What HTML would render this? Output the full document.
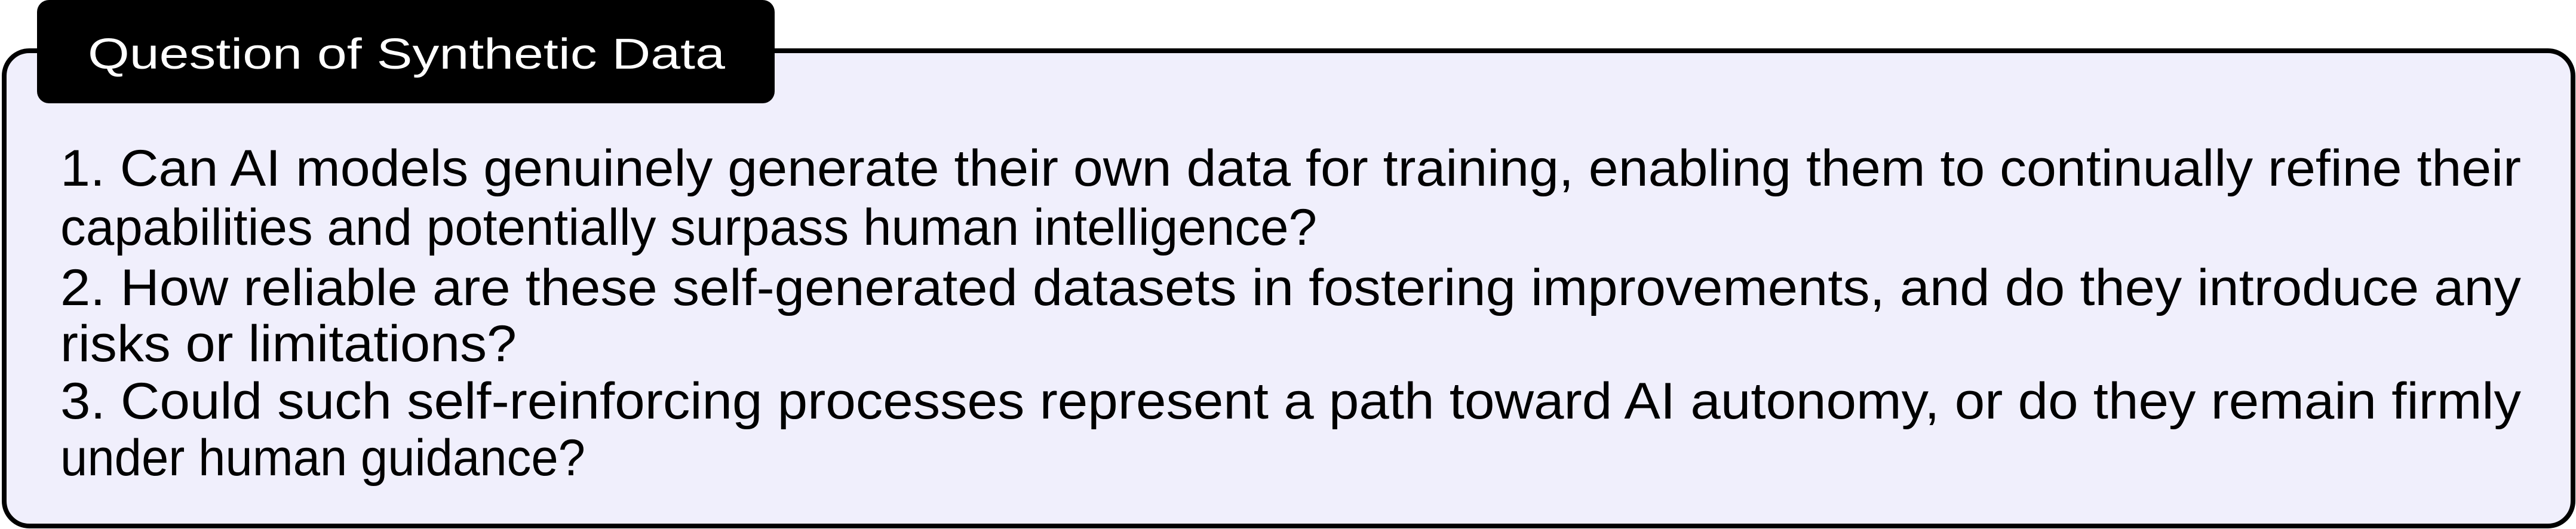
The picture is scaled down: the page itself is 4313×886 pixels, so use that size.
<!DOCTYPE html>
<html><head><meta charset="utf-8"><style>
html,body{margin:0;padding:0;background:#fff;}
svg{display:block;}
text{font-family:"Liberation Sans",sans-serif;}
</style></head><body>
<svg width="4313" height="886" viewBox="0 0 4313 886" xmlns="http://www.w3.org/2000/svg">
<rect x="7" y="85" width="4301" height="796" rx="42" ry="42" fill="#f0effc" stroke="#000" stroke-width="8"/>
<rect x="62" y="0" width="1235" height="173" rx="20" ry="20" fill="#000"/>
<text x="147" y="115" font-size="72" fill="#fff" textLength="1067" lengthAdjust="spacingAndGlyphs">Question of Synthetic Data</text>
<g font-size="86" fill="#000">
<text x="101" y="311" textLength="4120" lengthAdjust="spacingAndGlyphs">1. Can AI models genuinely generate their own data for training, enabling them to continually refine their</text>
<text x="101" y="410" textLength="2104" lengthAdjust="spacingAndGlyphs">capabilities and potentially surpass human intelligence?</text>
<text x="101" y="511" textLength="4120" lengthAdjust="spacingAndGlyphs">2. How reliable are these self-generated datasets in fostering improvements, and do they introduce any</text>
<text x="101" y="605" textLength="764" lengthAdjust="spacingAndGlyphs">risks or limitations?</text>
<text x="101" y="701" textLength="4120" lengthAdjust="spacingAndGlyphs">3. Could such self-reinforcing processes represent a path toward AI autonomy, or do they remain firmly</text>
<text x="101" y="796" textLength="879" lengthAdjust="spacingAndGlyphs">under human guidance?</text>
</g>
</svg>
</body></html>
